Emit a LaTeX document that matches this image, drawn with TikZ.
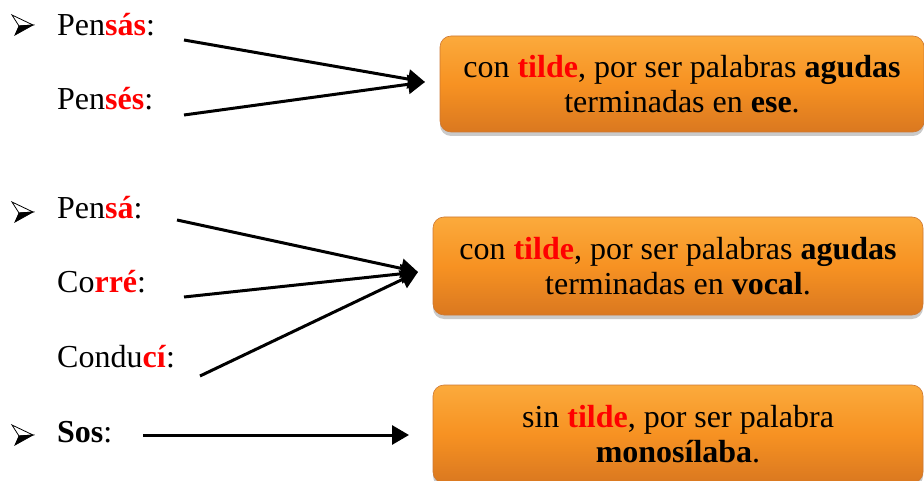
\documentclass[tikz,border=0pt]{standalone}
\usepackage{fontspec}
\setmainfont{Liberation Serif}
\usetikzlibrary{arrows.meta,shadows}
\definecolor{redw}{RGB}{255,0,0}
\definecolor{orTop}{RGB}{251,170,60}
\definecolor{orMid}{RGB}{247,146,34}
\definecolor{orBot}{RGB}{218,120,32}
\definecolor{orEdge}{RGB}{205,120,50}
\newcommand{\rw}[1]{\textcolor{redw}{\textbf{#1}}}
\begin{document}
\begin{tikzpicture}[x=1pt,y=-1pt,
  word/.style={anchor=base west,inner sep=0pt,font=\fontsize{32}{35}\selectfont},
  obox/.style={draw=orEdge,line width=0.6pt,rounded corners=11pt,
    top color=orTop,bottom color=orBot,middle color=orMid,
    align=center,inner sep=0pt,font=\fontsize{32}{35}\selectfont,
    drop shadow={shadow xshift=0pt,shadow yshift=-4pt,opacity=0.35,fill=black!60}},
  arr/.style={line width=3pt,-{Triangle[length=17pt,width=19pt]}},
  bulup/.style={draw=black,fill=white,line width=0.8pt,line join=miter},
  buldn/.style={draw=black,fill=black,line width=0.8pt,line join=miter}
]
\useasboundingbox (0,0) rectangle (924,481);

% boxes
\node[obox,minimum width=484pt,minimum height=96pt] (b1) at (682,84)
  {con \rw{tilde}, por ser palabras \textbf{agudas}\\terminadas en \textbf{ese}.};
\node[obox,minimum width=490pt,minimum height=98pt] (b2) at (678,266)
  {con \rw{tilde}, por ser palabras \textbf{agudas}\\terminadas en \textbf{vocal}.};
\node[obox,minimum width=490pt,minimum height=98pt] (b3) at (678,434)
  {sin \rw{tilde}, por ser palabra\\\textbf{monosílaba}.};

% bullets (3-D arrowheads)
\foreach \n/\y in {u1/25,u2/212,u3/435}{
  \coordinate (\n) at (22,\y);
  \draw[bulup] ([shift={(11,0)}]\n) -- ([shift={(-10,-10)}]\n) -- ([shift={(-3,1)}]\n) -- cycle;
  \draw[buldn] ([shift={(11,0)}]\n) -- ([shift={(-3,1)}]\n) -- ([shift={(-7,10)}]\n) -- cycle;
}

% words
\node[word] (w1) at (57,36) {Pen\rw{sás}:};
\node[word] (w2) at (57,110) {Pen\rw{sés}:};
\node[word] (w3) at (57,219) {Pen\rw{sá}:};
\node[word] (w4) at (57,293) {Co\rw{rré}:};
\node[word] (w5) at (57,367) {Condu\rw{cí}:};
\node[word] (w6) at (57,442) {\textbf{Sos}:};

% connector ends
\coordinate (s1) at (184,40);
\coordinate (s2) at (184,115);
\coordinate (t1) at (425,82);
\coordinate (s3) at (177,220);
\coordinate (s4) at (184,297);
\coordinate (s5) at (200,376);
\coordinate (t2) at (418,272);
\coordinate (s6) at (143,435);
\coordinate (t3) at (409,435);

\draw[arr] (s1) -- (t1);
\draw[arr] (s2) -- (t1);
\draw[arr] (s3) -- (t2);
\draw[arr] (s4) -- (t2);
\draw[arr] (s5) -- (t2);
\draw[arr] (s6) -- (t3);
\end{tikzpicture}
\end{document}
